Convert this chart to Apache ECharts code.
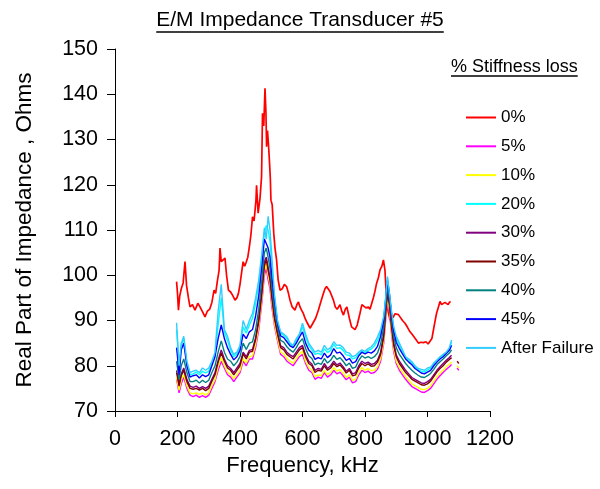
<!DOCTYPE html>
<html><head><meta charset="utf-8">
<script src="https://cdn.jsdelivr.net/npm/echarts@6/dist/echarts.min.js"></script>
<style>html,body{margin:0;padding:0;background:#fff}#c{width:600px;height:489px}</style>
</head><body><div id="c"></div>
<script>
// ---- data ----
const seriesNames = ['0%','5%','10%','20%','30%','35%','40%','45%','After Failure'];
const xTicks = [0,200,400,600,800,1000,1200];
const yTicks = [70,80,90,100,110,120,130,140,150];

const redF = [197,200,203,207,212,218,224,229,235,240,248,256,265,272,277,283,288,295,303,310,317,322,328,333,336,340,345,352,357,363,370,377,384,390,395,400,405,410,415,419,425,430,435,440,445,451,453,458,464,469,472,476,480,483,485,488,491,494,497,499,503,508,512,517,522,528,535,542,549,555,560,567,576,582,587,592,597,603,608,615,624,630,635,642,651,658,667,672,677,688,699,705,711,720,726,731,737,742,750,757,763,768,775,784,790,795,803,811,816,821,827,832,837,843,848,854,859,864,867,869,874,880,886,891,896,901,907,912,920,928,936,944,950,955,963,971,979,987,995,1002,1008,1014,1019,1024,1029,1035,1040,1045,1051,1056,1061,1066,1070,1074];
const loss0 = [98.6,96,92.3,95.4,97,98.3,103,97.7,95,93,93.5,92.3,93.8,93,93,91.5,90.8,92,92.5,94,96.7,96,98.9,101,106,103,102.7,103.8,100,96.7,96.3,95.5,94.5,95,96,98,100.5,103,102,102.7,104,106.3,109,112.9,112,116.5,119.9,113.7,117,121.8,135.8,133,141.3,136,128.4,132,129,125.5,121.5,116.6,115.6,109.3,106,103.4,99,96.7,97,98,97.5,96,94.5,93,92.3,93.5,94.1,93,92.3,91.5,90.5,89.5,88.3,89,89.4,90.5,92.3,94,96,97,97.5,96.4,94.5,93,92.5,93.5,92,91.2,92.5,93,90.5,88.6,88.3,88,89,91.6,93.5,93.8,92.8,93,92.5,92.3,95.1,96.5,98.2,99.5,101.2,102,103.4,101,97,94.5,92,90.1,90.5,90.8,91.5,91.9,91.3,90.8,90,89.4,88.5,87.5,87,86.8,85.8,85,85.2,85.1,85.3,84.8,85,86,87.9,89.8,91.6,93,94.2,93.5,93.2,94,93.7,93.5,94,94.2];

const freq = [197,200,205,212,220,
 230,240,250,260,270,280,290,300,310,320,
 330,340,350,360,370,380,390,400,410,420,
 430,440,450,460,470,478,484,490,496,502,
 510,520,530,540,550,560,570,580,590,600,
 610,620,630,640,650,660,670,680,690,700,
 710,720,730,740,750,760,770,780,790,800,
 810,820,830,840,850,860,866,872,878,885,
 892,900,910,920,930,940,950,960,970,980,
 990,1000,1010,1020,1030,1040,1050,1060,1070,1077];

const loss5 = [77,76,74,76,77.5,
 75,73.5,73.2,73.5,73,73.4,73,73.5,75,76.5,
 79,81,79.5,78,77.5,76.5,77.5,78.5,81,80,
 81.5,81.5,84,88,94,100,101.5,99,97,93,
 89,85.5,82.5,82,81,80.5,80,81,82,82.5,
 80.5,79,78.5,77,77.5,77.2,78.5,77.5,78,79,
 78.2,78.6,77.8,76.9,77.5,76.2,76.5,78,79,78.5,
 78.8,78.3,78.5,79.2,81,85,90,94.5,92,87,
 83,80.5,79,78,77,76.2,75.4,75,74.6,74.2,
 74.1,74.5,75,76,77,77.8,78.5,79.2,79.8,80.3];
const loss10 = [77.5,76.5,74.6,76.8,78,
 75.6,74,73.8,74,73.6,74,73.5,74,75.6,77,
 79.8,81.8,80,78.6,78,77.2,78,79,81.6,80.6,
 82,82.2,84.8,88.8,95,101,102.5,100,98,94,
 89.6,86,83,82.6,81.6,81,80.6,81.6,82.6,83.2,
 81,79.6,79,77.6,78,77.8,79,78,78.6,79.6,
 78.8,79.2,78.4,77.4,78,76.8,77,78.6,79.6,79,
 79.4,78.9,79,79.8,81.6,85.6,90.6,95,92.6,87.6,
 83.6,81,79.6,78.6,77.6,76.8,76,75.6,75.2,74.8,
 74.7,75,75.6,76.6,77.6,78.4,79,79.8,80.4,80.8];
const loss20 = [88,85,79.5,84.5,86,
 80.5,78,78.2,78.6,78,78.8,78.4,78.8,80.5,82.5,
 89,95,87.4,85.6,83.4,82,82.6,84,88.6,87.2,
 89,90.5,93.8,98,104,109,111,110,107.5,102,
 95.3,89.8,87.2,86.7,86,84.7,84.3,85.6,86.8,88.6,
 86.4,84.5,83.5,82.5,82.8,82.4,83.8,82.9,83.4,84.8,
 83.8,84,83.4,82.4,82.3,81.5,81.8,82.6,83.2,82.8,
 83.4,83.7,84.4,85.6,87.4,90.6,94.8,99.2,95.8,91.7,
 88.2,86,84.5,83,81.7,81.1,80.5,79.7,79.1,78.8,
 78.6,79.1,79.4,80.3,81,81.7,82.2,82.8,83.7,85.2];
const loss30 = [79,78,76,78.2,79.5,
 77,75.5,75.2,75.5,75,75.4,75,75.5,77,78.5,
 81.2,83.5,81.5,80,79.4,78.5,79.5,80.5,83,82,
 83.4,83.6,86.2,90.4,96.8,103,104,101.8,99.5,95.6,
 91,87.5,84.4,84,83,82.4,82,83,84,84.5,
 82.4,81,80.4,79,79.4,79.2,80.5,79.4,80,81,
 80.2,80.6,79.8,78.8,79.4,78.2,78.5,80,81,80.5,
 80.8,80.3,80.5,81.2,83,87,92,96.5,94,89,
 85,82.4,81,80,79,78.2,77.4,77,76.6,76.2,
 76.1,76.5,77,78,79,79.8,80.5,81.2,81.8,82.3];
const loss35 = [78.5,77.5,75.5,77.8,79,
 76.5,75,74.8,75,74.6,75,74.5,75,76.6,78,
 80.8,82.8,81,79.5,79,78,79,80,82.6,81.5,
 83,83.2,85.8,89.8,96,102,103.5,101,99,95,
 90.5,87,84,83.5,82.5,82,81.5,82.5,83.5,84,
 82,80.5,80,78.5,79,78.8,80,79,79.5,80.5,
 79.8,80.2,79.4,78.4,79,77.8,78,79.5,80.5,80,
 80.4,79.9,80,80.8,82.5,86.5,91.5,96,93.5,88.5,
 84.5,82,80.5,79.5,78.5,77.8,77,76.6,76.2,75.8,
 75.7,76,76.6,77.6,78.6,79.4,80,80.8,81.4,81.8];
const loss40 = [81,79.5,77,80,81.5,
 78.5,76.5,76.5,76.8,76.2,76.8,76.3,76.8,78.5,80,
 83,85.5,83,81.5,81,80,80.8,82,85,83.6,
 85,85.3,88,92.5,99,105,106,104,101.5,97.5,
 92.6,88.6,85.6,85.2,84.2,83.5,83,84,85.2,86,
 83.8,82.2,81.6,80.2,80.6,80.3,81.6,80.6,81.2,82.3,
 81.4,81.8,81,80,80.6,79.4,79.7,81.2,82.2,81.7,
 82,81.6,82,82.8,84.8,88.5,93.2,97.8,95,90.2,
 86.4,84,82.5,81.5,80.5,79.7,79,78.4,77.9,77.5,
 77.4,77.8,78.3,79.2,80.2,80.9,81.5,82.2,82.8,83.5];
const loss45 = [84,82,78,83.5,85,
 80,77.5,77.8,78,77.3,78,77.6,78,80,82,
 86,89,86,84,82.5,81.3,82,83.4,87,86,
 87.5,88,91,95.5,102,108,107,106,104,99.5,
 94.5,89.5,86.6,86.2,85.3,84.4,84,85,86.3,87.5,
 85,83.5,82.8,81.4,81.8,81.5,82.8,81.8,82.4,83.8,
 82.8,83,82.2,81.2,81.6,80.6,80.9,82.2,83,82.6,
 83,82.8,83.3,84.3,86.5,90,94.5,98.8,96,91.2,
 87.6,85.2,83.8,82.6,81.5,80.8,80.2,79.4,78.9,78.4,
 78.2,78.6,79,80,80.8,81.5,82,82.7,83.4,84.5];
const afterFailure = [89.5,86,80,85,86.5,
 81,78.5,78.8,79,78.5,79.5,79,79.5,81,83,
 92,98,88,86.5,84,82.5,83,84.5,90,88,
 90,91.6,95,99,105,110.5,108,113,110,104,
 96,90,87.5,87,86.4,85,84.5,86,87,89.4,
 87,85,84,83,83.4,83,84.5,83.5,84,85.3,
 84.5,84.6,84,83,82.8,82,82.3,83,83.5,83.2,
 83.8,84.2,85,86.4,88,91,95,99.7,96,92,
 88.6,86.5,85,83.5,82,81.5,80.9,80,79.4,79.2,
 79,79.5,79.7,80.6,81.3,82,82.5,83,84,85.7];

// short detached fragment near 1100 kHz
const tailF = [1095,1100];
const tail5 = [79.5,79];
const tail10 = [80,79.5];
const tail35 = [81,80.5];

const colors = ['#FF0000','#FF00FF','#FFFF00','#00FFFF','#800080','#800000','#008080','#0000FF','#33CCFF'];

function pairs(xs, ys){ return xs.map((x,i)=>[x, ys[i]]); }
function withTail(base, tail){ return base.concat([[1085,null]], pairs(tailF, tail)); }

const dataSets = [
  pairs(redF, loss0),
  withTail(pairs(freq, loss5), tail5),
  withTail(pairs(freq, loss10), tail10),
  pairs(freq, loss20),
  pairs(freq, loss30),
  withTail(pairs(freq, loss35), tail35),
  pairs(freq, loss40),
  pairs(freq, loss45),
  pairs(freq, afterFailure)
];

const FONT = '"Liberation Sans", Arial, sans-serif';
function textW(t, size){
  const c = document.createElement('canvas').getContext('2d');
  c.font = size + 'px ' + FONT; return c.measureText(t).width;
}
const titleText = 'E/M Impedance Transducer #5';
const titleSize = 21;
const tW = textW(titleText, titleSize);
const legTitle = '% Stiffness loss';
const legSize = 18;
const lW = textW(legTitle, legSize);

const chart = echarts.init(document.getElementById('c'), null, {renderer:'canvas'});
chart.setOption({
  animation: false,
  backgroundColor: '#fff',
  color: colors,
  grid: {left:115, right:110, top:49, bottom:78, containLabel:false},
  xAxis: {
    type:'value', min:xTicks[0], max:xTicks[xTicks.length-1], interval:200,
    name:'Frequency, kHz', nameLocation:'middle', nameGap:44,
    nameTextStyle:{fontFamily:FONT, fontSize:22, color:'#000'},
    axisLine:{show:true, lineStyle:{color:'#000', width:1}},
    axisTick:{show:true, inside:false, length:6, lineStyle:{color:'#000'}},
    axisLabel:{fontFamily:FONT, fontSize:21.5, color:'#000', margin:17, formatter: v => String(v)},
    splitLine:{show:false}
  },
  yAxis: {
    type:'value', min:yTicks[0], max:yTicks[yTicks.length-1], interval:10,
    name:'Real Part of Impedance , Ohms', nameLocation:'middle', nameGap:79, nameRotate:90,
    nameTextStyle:{fontFamily:FONT, fontSize:22.5, color:'#000'},
    axisLine:{show:true, lineStyle:{color:'#000', width:1}},
    axisTick:{show:true, inside:false, length:8, lineStyle:{color:'#000'}},
    axisLabel:{fontFamily:FONT, fontSize:21.5, color:'#000', margin:17, formatter: v => String(v)},
    splitLine:{show:false}
  },
  legend: {
    orient:'vertical', left:461, top:104,
    itemWidth:30, itemHeight:2, itemGap:11.8, icon:'rect',
    textStyle:{fontFamily:FONT, fontSize:17, color:'#000', lineHeight:17},
    data: seriesNames
  },
  graphic: [
    {type:'text', left:300 - tW/2, top:10, style:{text:titleText, fontFamily:FONT, fontSize:titleSize, fill:'#000'}},
    {type:'line', shape:{x1:300 - tW/2, y1:32, x2:300 + tW/2, y2:32}, style:{stroke:'#000', lineWidth:1.3}},
    {type:'text', left:451, top:58, style:{text:legTitle, fontFamily:FONT, fontSize:legSize, fill:'#000'}},
    {type:'line', shape:{x1:451, y1:76, x2:451 + lW, y2:76}, style:{stroke:'#000', lineWidth:1.3}}
  ],
  series: seriesNames.map((n,i)=>({
    name:n, type:'line', data:dataSets[i], showSymbol:false, symbol:'none',
    connectNulls:false, lineStyle:{width: i === 0 ? 1.7 : 1.4, color:colors[i]}, itemStyle:{color:colors[i]},
    z: 2 + i
  }))
});
</script></body></html>
